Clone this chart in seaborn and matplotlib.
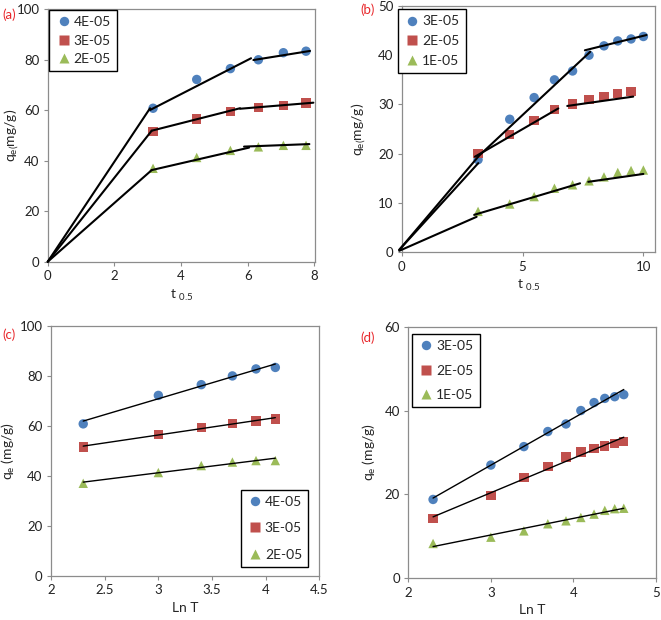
import numpy as np
import pandas as pd
import seaborn as sns
import matplotlib.pyplot as plt

sns.set_style('white')
plt.rcParams['font.family'] = ['Lato', 'DejaVu Sans']
plt.rcParams['mathtext.default'] = 'regular'

palette = ['#4F81BD', '#C0504D', '#9BBB59']
markers = ['o', 's', '^']

# x values: square root of time and natural log of time
sqrt_t = [3.16, 4.47, 5.48, 6.32, 7.07, 7.75, 8.37, 8.94, 9.49, 10.0]
ln_t = [2.30, 3.00, 3.40, 3.69, 3.91, 4.09, 4.25, 4.38, 4.50, 4.61]

# panels (a) and (c)
labels_ac = ['4E-05', '3E-05', '2E-05']
q_4e05 = [60.8, 72.2, 76.5, 80.0, 82.8, 83.4]
q_3e05_a = [51.5, 56.6, 59.4, 61.0, 62.0, 62.8]
q_2e05_a = [37.0, 41.3, 44.1, 45.5, 46.1, 46.1]

# panels (b) and (d)
labels_bd = ['3E-05', '2E-05', '1E-05']
q_3e05_b = [18.8, 27.0, 31.4, 35.0, 36.8, 40.0, 41.9, 42.9, 43.3, 43.8]
q_2e05_b = [20.0, 23.9, 26.8, 29.0, 30.1, 31.0, 31.6, 32.2, 32.6]
q_2e05_d = [14.2, 19.8, 24.0, 26.7, 28.9, 30.1, 30.9, 31.5, 32.2, 32.6]
q_1e05 = [8.3, 9.8, 11.3, 13.0, 13.7, 14.5, 15.3, 16.2, 16.6, 16.7]

# hand drawn multi-linear fits in (a) and (b)
fit_a = [
    [[(0, 0), (3.07, 60.8)], [(3.07, 60.1), (6.10, 80.6)], [(6.17, 79.9), (7.87, 83.5)]],
    [[(0, 0), (3.12, 51.9)], [(3.12, 51.9), (5.77, 60.8)], [(5.77, 60.6), (7.97, 63.0)]],
    [[(0, 0), (3.12, 36.3)], [(3.12, 36.3), (6.04, 45.2)], [(5.89, 45.6), (7.85, 46.6)]],
]
fit_b = [
    [[(-0.1, 0.5), (3.2, 19.6), (7.8, 40.7)], [(7.58, 41.0), (10.13, 44.1)]],
    [[(-0.1, 0.5), (3.17, 18.1)], [(3.03, 19.4), (6.48, 29.2)], [(6.85, 29.7), (9.58, 31.6)]],
    [[(-0.1, 0.3), (3.1, 7.2)], [(3.0, 7.6), (7.38, 14.0)], [(7.72, 14.3), (10.0, 15.9)]],
]


def long_df(xs, series, labels):
    rows = []
    for lab, ys in zip(labels, series):
        for x, y in zip(xs, ys):
            rows.append({'x': x, 'q': y, 'conc': lab})
    return pd.DataFrame(rows)


df_a = long_df(sqrt_t, [q_4e05, q_3e05_a, q_2e05_a], labels_ac)
df_c = long_df(ln_t, [q_4e05, q_3e05_a, q_2e05_a], labels_ac)
df_b = long_df(sqrt_t, [q_3e05_b, q_2e05_b, q_1e05], labels_bd)
df_d = long_df(ln_t, [q_3e05_b, q_2e05_d, q_1e05], labels_bd)

fig = plt.figure(figsize=(6.61, 6.20), dpi=100)
ax_a = fig.add_axes([0.0722, 0.5779, 0.4044, 0.4071])
ax_b = fig.add_axes([0.6077, 0.5931, 0.3832, 0.3973])
ax_c = fig.add_axes([0.0772, 0.0715, 0.4059, 0.4027])
ax_d = fig.add_axes([0.6177, 0.0673, 0.3747, 0.4058])


def scatter(ax, df, labels):
    sns.scatterplot(data=df, x='x', y='q', hue='conc', style='conc',
                    hue_order=labels, style_order=labels,
                    palette=palette, markers=markers, s=46,
                    edgecolor='none', ax=ax, zorder=2)


def style_axes(ax, xticks, yticks, xlim, ylim):
    ax.set_xlim(*xlim)
    ax.set_ylim(*ylim)
    ax.set_xticks(xticks)
    ax.set_xticklabels([f'{v:g}' for v in xticks])
    ax.set_yticks(yticks)
    ax.set_yticklabels([f'{v:g}' for v in yticks])
    for sp in ax.spines.values():
        sp.set_visible(True)
        sp.set_color('#8c8c8c')
        sp.set_linewidth(0.9)
    ax.tick_params(direction='out', length=3, width=0.8, color='#8c8c8c',
                   labelsize=9.5, labelcolor='#222222', pad=3,
                   bottom=True, left=True)


def legend(ax, loc, anchor, spacing):
    sns.move_legend(ax, loc, bbox_to_anchor=anchor, title=None, frameon=True,
                    fancybox=False, edgecolor='black', fontsize=10,
                    labelspacing=spacing, handletextpad=0.1,
                    borderaxespad=0, borderpad=0.45, handlelength=1.2,
                    framealpha=1)
    ax.get_legend().get_frame().set_linewidth(1.0)


# (a)
scatter(ax_a, df_a, labels_ac)
for segs in fit_a:
    for seg in segs:
        xs, ys = zip(*seg)
        ax_a.plot(xs, ys, color='black', lw=1.5, zorder=3, clip_on=False)
style_axes(ax_a, [0, 2, 4, 6, 8], [0, 20, 40, 60, 80, 100], (0, 8.02), (0, 100))
ax_a.set_xlabel(r't $_{0.5}$', fontsize=10, labelpad=4)
ax_a.set_ylabel(r'q$_{e(}$mg/g)', fontsize=10)
ax_a.yaxis.set_label_coords(-0.100, 0.5)
legend(ax_a, 'upper left', (0.005, 0.997), 0.45)

# (b)
scatter(ax_b, df_b, labels_bd)
for segs in fit_b:
    for seg in segs:
        xs, ys = zip(*seg)
        ax_b.plot(xs, ys, color='black', lw=1.5, zorder=3, clip_on=False)
style_axes(ax_b, [0, 5, 10], [0, 10, 20, 30, 40, 50], (0, 10.48), (0, 50))
ax_b.set_xlabel(r't $_{0.5}$', fontsize=10, labelpad=4)
ax_b.set_ylabel(r'q$_{e(}$mg/g)', fontsize=10)
ax_b.yaxis.set_label_coords(-0.134, 0.5)
legend(ax_b, 'upper left', (-0.015, 0.987), 0.55)

# (c)
scatter(ax_c, df_c, labels_ac)
for lab in labels_ac:
    sub = df_c[df_c.conc == lab]
    sns.regplot(data=sub, x='x', y='q', scatter=False, ci=None, truncate=True,
                line_kws={'color': 'black', 'lw': 1.0, 'zorder': 3}, ax=ax_c)
style_axes(ax_c, [2, 2.5, 3, 3.5, 4, 4.5], [0, 20, 40, 60, 80, 100], (2, 4.5), (0, 100))
ax_c.set_xlabel('Ln T', fontsize=10, labelpad=4)
ax_c.set_ylabel(r'q$_e$ (mg/g)', fontsize=10)
ax_c.yaxis.set_label_coords(-0.127, 0.5)
legend(ax_c, 'lower right', (0.959, 0.034), 1.05)

# (d)
scatter(ax_d, df_d, labels_bd)
for lab in labels_bd:
    sub = df_d[df_d.conc == lab]
    sns.regplot(data=sub, x='x', y='q', scatter=False, ci=None, truncate=True,
                line_kws={'color': 'black', 'lw': 1.0, 'zorder': 3}, ax=ax_d)
style_axes(ax_d, [2, 3, 4, 5], [0, 20, 40, 60], (2, 5), (0, 60))
ax_d.set_xlabel('Ln T', fontsize=10, labelpad=4)
ax_d.set_ylabel(r'q$_e$ (mg/g)', fontsize=10)
ax_d.yaxis.set_label_coords(-0.124, 0.5)
legend(ax_d, 'upper left', (0.014, 0.971), 0.9)

for txt, x, y in [('(a)', 0.004, 0.976), ('(b)', 0.545, 0.985),
                  ('(c)', 0.004, 0.460), ('(d)', 0.545, 0.456)]:
    fig.text(x, y, txt, color='#E8262A', fontsize=9.5, va='center', ha='left')

fig.savefig('out.png', dpi=100)
